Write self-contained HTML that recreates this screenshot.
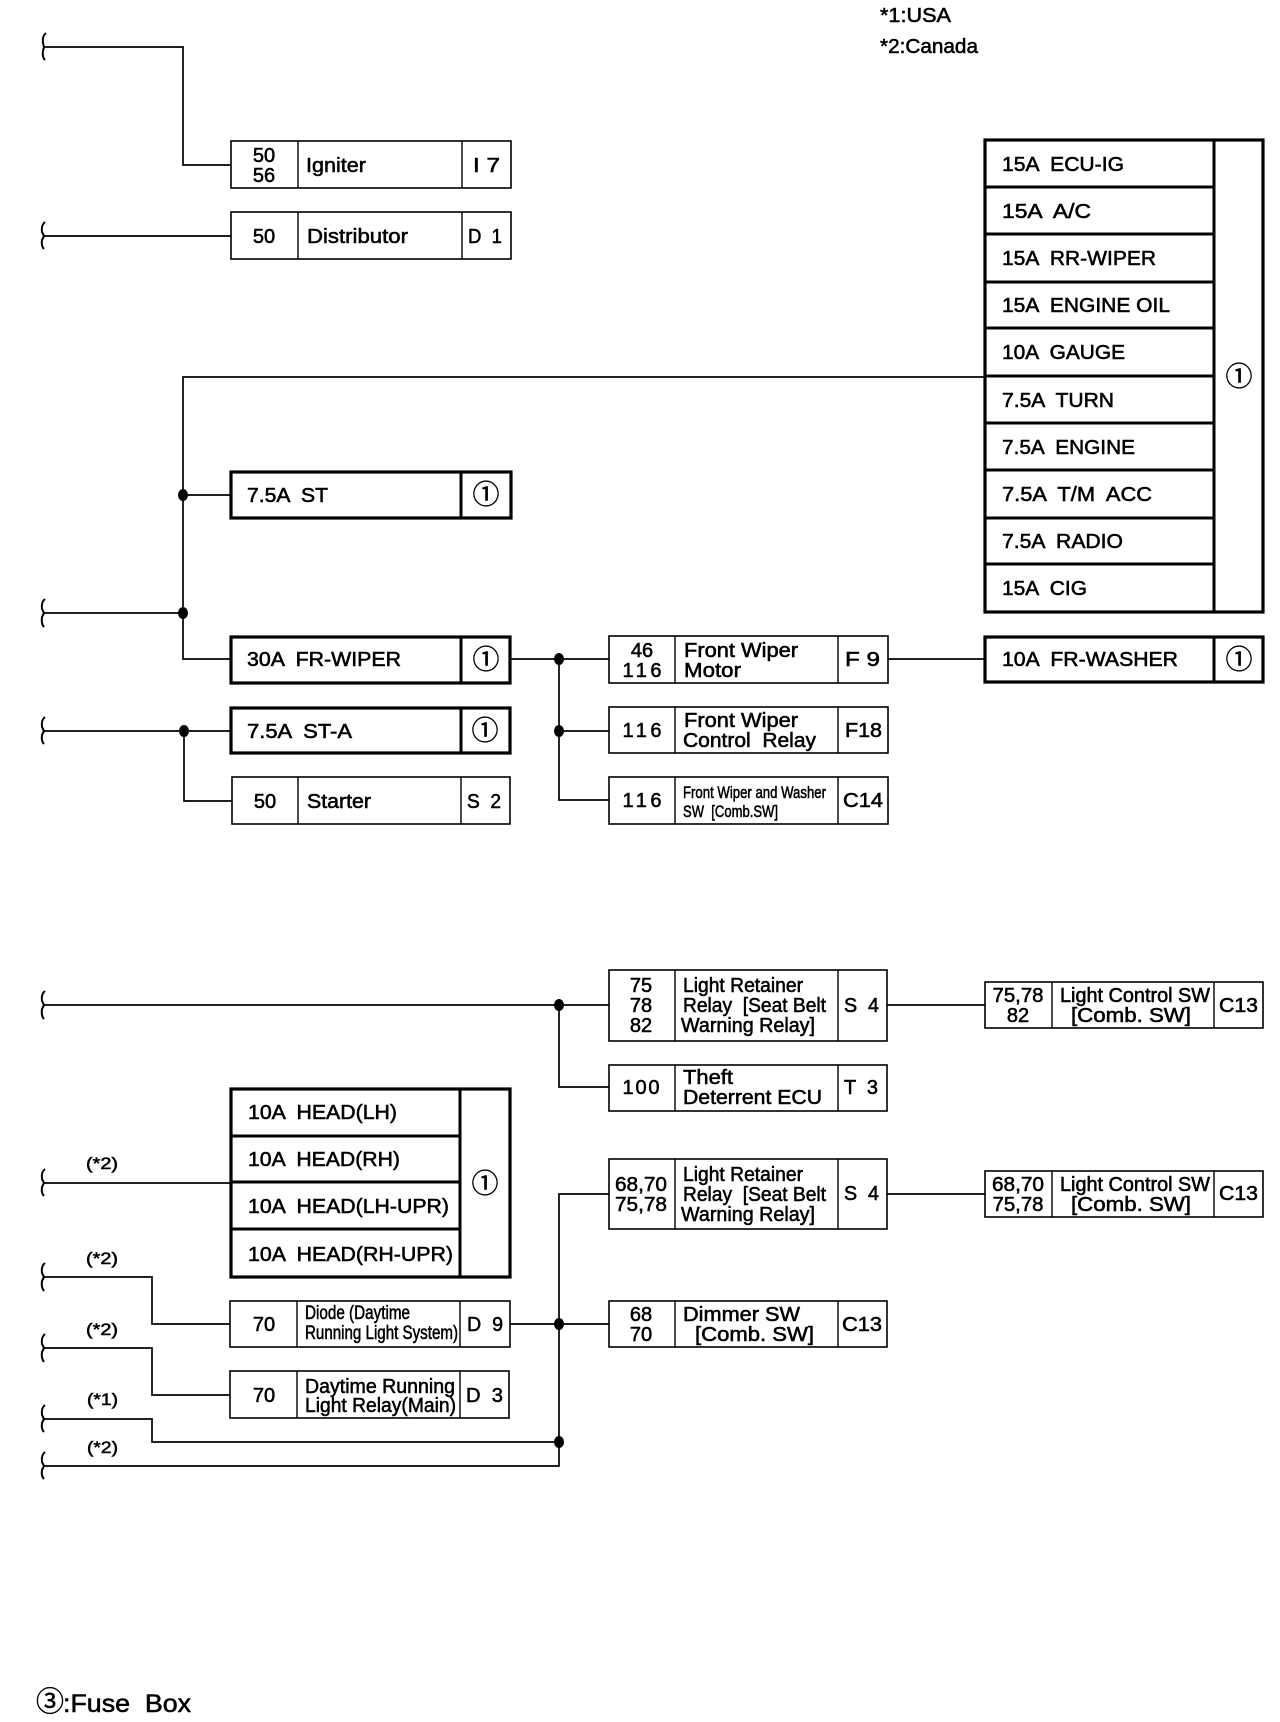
<!DOCTYPE html>
<html lang="en"><head><meta charset="utf-8"><title>Fuse Box Diagram</title>
<style>
html,body{margin:0;padding:0;background:#fff}
svg{display:block}
text{font-family:"Liberation Sans","Noto Sans CJK JP",sans-serif;font-size:20px;fill:#000;stroke:#000;stroke-width:.55px;white-space:pre}
.m{text-anchor:middle}
.c{font-family:"Noto Sans CJK JP","Liberation Sans",sans-serif;font-size:27px;text-anchor:middle;stroke:#000;stroke-width:.45px}
.s{font-size:17px}
.t{font-size:19px}
.w{fill:none;stroke:#000;stroke-width:1.7}
.b{fill:#fff;stroke:#000;stroke-width:1.6}
.B{fill:#fff;stroke:#000;stroke-width:3.2}
.d{stroke:#000;stroke-width:1.4;fill:none}
.D{stroke:#000;stroke-width:3;fill:none}
.k{fill:none;stroke:#000;stroke-width:2}
</style></head><body>
<svg xmlns="http://www.w3.org/2000/svg" width="1280" height="1722" viewBox="0 0 1280 1722">
<!-- braces -->
<path class="k" d="M46 33Q42 36 43 43L44 47L43 51Q42 57 45 60"/>
<path class="k" d="M45 222Q41 225 42 232L44 236L42 240Q41 246 44 249"/>
<path class="k" d="M45 599Q41 602 42 609L44 613L42 617Q41 624 44 627"/>
<path class="k" d="M45 717Q41 720 42 727L44 731L42 735Q41 741 44 744"/>
<path class="k" d="M45 991Q41 994 42 1001L44 1005L42 1009Q41 1016 44 1019"/>
<path class="k" d="M45 1169Q41 1172 42 1179L44 1183L42 1187Q41 1193 44 1196"/>
<path class="k" d="M45 1263Q41 1266 42 1273L44 1277L42 1281Q41 1287 44 1291"/>
<path class="k" d="M45 1334Q41 1337 42 1344L44 1348L42 1352Q41 1358 44 1362"/>
<path class="k" d="M45 1405Q41 1408 42 1415L44 1419L42 1423Q41 1429 44 1432"/>
<path class="k" d="M45 1452Q41 1455 42 1462L44 1466L42 1470Q41 1476 44 1479"/>
<!-- wires -->
<path class="w" d="M44 47H183V165H231"/>
<path class="w" d="M44 236H231"/>
<path class="w" d="M985 377H183V659H231"/>
<path class="w" d="M183 495H231"/>
<path class="w" d="M44 613H183"/>
<path class="w" d="M44 731H231"/>
<path class="w" d="M184 731V801H232"/>
<path class="w" d="M510 659H609"/>
<path class="w" d="M559 659V800H609"/>
<path class="w" d="M559 731H609"/>
<path class="w" d="M888 659H985"/>
<path class="w" d="M44 1005H609"/>
<path class="w" d="M559 1005V1087H609"/>
<path class="w" d="M887 1005H985"/>
<path class="w" d="M887 1194H985"/>
<path class="w" d="M609 1194H559V1466H44"/>
<path class="w" d="M510 1324H609"/>
<path class="w" d="M44 1183H231"/>
<path class="w" d="M44 1277H152V1324H230"/>
<path class="w" d="M44 1348H152V1395H230"/>
<path class="w" d="M44 1419H152V1442H559"/>
<!-- dots -->
<ellipse cx="183" cy="495" rx="5" ry="6"/>
<ellipse cx="183" cy="613" rx="5" ry="6"/>
<ellipse cx="184" cy="731" rx="5" ry="6"/>
<ellipse cx="559" cy="659" rx="5" ry="6"/>
<ellipse cx="559" cy="731" rx="5" ry="6"/>
<ellipse cx="559" cy="1005" rx="5" ry="6"/>
<ellipse cx="559" cy="1324" rx="5" ry="6"/>
<ellipse cx="559" cy="1442" rx="5" ry="6"/>

<!-- legend -->
<text x="880" y="22" textLength="71" lengthAdjust="spacingAndGlyphs">*1:USA</text>
<text x="880" y="53" textLength="98" lengthAdjust="spacingAndGlyphs">*2:Canada</text>

<!-- Igniter -->
<rect class="b" x="231" y="141" width="280" height="47"/><path class="d" d="M298 141V188M462 141V188"/>
<text class="m" x="264" y="162">50</text><text class="m" x="264" y="182">56</text>
<text x="306" y="172" textLength="60" lengthAdjust="spacingAndGlyphs">Igniter</text>
<text x="473" y="172" textLength="27" lengthAdjust="spacingAndGlyphs">I 7</text>
<!-- Distributor -->
<rect class="b" x="231" y="212" width="280" height="47"/><path class="d" d="M298 212V259M462 212V259"/>
<text class="m" x="264" y="243">50</text>
<text x="307" y="243" textLength="101" lengthAdjust="spacingAndGlyphs">Distributor</text>
<text x="468" y="243" textLength="34" lengthAdjust="spacingAndGlyphs">D  1</text>

<!-- big fuse box -->
<rect class="B" x="985" y="140" width="278" height="472"/>
<path class="D" d="M985 187H1214M985 234H1214M985 282H1214M985 328H1214M985 376H1214M985 423H1214M985 470H1214M985 518H1214M985 564H1214"/>
<path class="D" d="M1214 140V612"/>
<text x="1002" y="171" textLength="122" lengthAdjust="spacingAndGlyphs">15A  ECU-IG</text>
<text x="1002" y="218" textLength="89" lengthAdjust="spacingAndGlyphs">15A  A/C</text>
<text x="1002" y="265" textLength="154" lengthAdjust="spacingAndGlyphs">15A  RR-WIPER</text>
<text x="1002" y="312" textLength="168" lengthAdjust="spacingAndGlyphs">15A  ENGINE OIL</text>
<text x="1002" y="359" textLength="123" lengthAdjust="spacingAndGlyphs">10A  GAUGE</text>
<text x="1002" y="407" textLength="112" lengthAdjust="spacingAndGlyphs">7.5A  TURN</text>
<text x="1002" y="454" textLength="133" lengthAdjust="spacingAndGlyphs">7.5A  ENGINE</text>
<text x="1002" y="501" textLength="150" lengthAdjust="spacingAndGlyphs">7.5A  T/M  ACC</text>
<text x="1002" y="548" textLength="121" lengthAdjust="spacingAndGlyphs">7.5A  RADIO</text>
<text x="1002" y="595" textLength="85" lengthAdjust="spacingAndGlyphs">15A  CIG</text>
<text class="c" x="1239" y="386">①</text>

<!-- 7.5A ST -->
<rect class="B" x="231" y="472" width="280" height="46"/><path class="D" d="M461 472V518"/>
<text x="247" y="502" textLength="81" lengthAdjust="spacingAndGlyphs">7.5A  ST</text>
<text class="c" x="486" y="504">①</text>
<!-- 30A FR-WIPER -->
<rect class="B" x="231" y="637" width="279" height="46"/><path class="D" d="M461 637V683"/>
<text x="247" y="666" textLength="154" lengthAdjust="spacingAndGlyphs">30A  FR-WIPER</text>
<text class="c" x="486" y="669">①</text>
<!-- 7.5A ST-A -->
<rect class="B" x="231" y="708" width="279" height="45"/><path class="D" d="M461 708V753"/>
<text x="247" y="738" textLength="105" lengthAdjust="spacingAndGlyphs">7.5A  ST-A</text>
<text class="c" x="485" y="740">①</text>
<!-- Starter -->
<rect class="b" x="232" y="777" width="278" height="47"/><path class="d" d="M298 777V824M461 777V824"/>
<text class="m" x="265" y="808">50</text>
<text x="307" y="808" textLength="64" lengthAdjust="spacingAndGlyphs">Starter</text>
<text x="467" y="808" textLength="34" lengthAdjust="spacingAndGlyphs">S  2</text>

<!-- Front Wiper Motor -->
<rect class="b" x="609" y="636" width="279" height="47"/><path class="d" d="M675 636V683M838 636V683"/>
<text class="m" x="642" y="657">46</text><text class="m" x="642" y="677" textLength="39" lengthAdjust="spacing">116</text>
<text x="684" y="657" textLength="114" lengthAdjust="spacingAndGlyphs">Front Wiper</text>
<text x="684" y="677" textLength="57" lengthAdjust="spacingAndGlyphs">Motor</text>
<text x="845" y="666" textLength="35" lengthAdjust="spacingAndGlyphs">F 9</text>
<!-- Front Wiper Control Relay -->
<rect class="b" x="609" y="707" width="279" height="46"/><path class="d" d="M675 707V753M838 707V753"/>
<text class="m" x="642" y="737" textLength="39" lengthAdjust="spacing">116</text>
<text x="684" y="727" textLength="114" lengthAdjust="spacingAndGlyphs">Front Wiper</text>
<text x="683" y="747" textLength="133" lengthAdjust="spacingAndGlyphs">Control  Relay</text>
<text x="845" y="737" textLength="37" lengthAdjust="spacingAndGlyphs">F18</text>
<!-- Front Wiper and Washer -->
<rect class="b" x="609" y="777" width="279" height="47"/><path class="d" d="M675 777V824M838 777V824"/>
<text class="m" x="642" y="807" textLength="39" lengthAdjust="spacing">116</text>
<text class="s" x="683" y="798" textLength="143" lengthAdjust="spacingAndGlyphs">Front Wiper and Washer</text>
<text class="s" x="683" y="817" textLength="95" lengthAdjust="spacingAndGlyphs">SW  [Comb.SW]</text>
<text x="843" y="807" textLength="40" lengthAdjust="spacingAndGlyphs">C14</text>
<!-- FR-WASHER -->
<rect class="B" x="985" y="637" width="278" height="45"/><path class="D" d="M1214 637V682"/>
<text x="1002" y="666" textLength="176" lengthAdjust="spacingAndGlyphs">10A  FR-WASHER</text>
<text class="c" x="1239" y="669">①</text>

<!-- Light Retainer 1 -->
<rect class="b" x="609" y="970" width="278" height="71"/><path class="d" d="M675 970V1041M838 970V1041"/>
<text class="m" x="641" y="992">75</text><text class="m" x="641" y="1012">78</text><text class="m" x="641" y="1032">82</text>
<text x="683" y="992" textLength="120" lengthAdjust="spacingAndGlyphs">Light Retainer</text>
<text x="683" y="1012" textLength="143" lengthAdjust="spacingAndGlyphs">Relay  [Seat Belt</text>
<text x="681" y="1032" textLength="134" lengthAdjust="spacingAndGlyphs">Warning Relay]</text>
<text x="844" y="1012" textLength="35" lengthAdjust="spacingAndGlyphs">S  4</text>
<!-- Light Control 1 -->
<rect class="b" x="985" y="982" width="278" height="46"/><path class="d" d="M1052 982V1028M1214 982V1028"/>
<text class="m" x="1018" y="1002" textLength="51" lengthAdjust="spacingAndGlyphs">75,78</text><text class="m" x="1018" y="1022">82</text>
<text x="1060" y="1002" textLength="150" lengthAdjust="spacingAndGlyphs">Light Control SW</text>
<text x="1071" y="1022" textLength="120" lengthAdjust="spacingAndGlyphs">[Comb. SW]</text>
<text x="1219" y="1012" textLength="39" lengthAdjust="spacingAndGlyphs">C13</text>
<!-- Theft -->
<rect class="b" x="609" y="1065" width="278" height="46"/><path class="d" d="M675 1065V1111M838 1065V1111"/>
<text class="m" x="641" y="1094" textLength="37" lengthAdjust="spacing">100</text>
<text x="683" y="1084" textLength="50" lengthAdjust="spacingAndGlyphs">Theft</text>
<text x="683" y="1104" textLength="139" lengthAdjust="spacingAndGlyphs">Deterrent ECU</text>
<text x="844" y="1094" textLength="34" lengthAdjust="spacingAndGlyphs">T  3</text>
<!-- Light Retainer 2 -->
<rect class="b" x="609" y="1159" width="278" height="70"/><path class="d" d="M675 1159V1229M838 1159V1229"/>
<text class="m" x="641" y="1191" textLength="52" lengthAdjust="spacingAndGlyphs">68,70</text><text class="m" x="641" y="1211" textLength="52" lengthAdjust="spacingAndGlyphs">75,78</text>
<text x="683" y="1181" textLength="120" lengthAdjust="spacingAndGlyphs">Light Retainer</text>
<text x="683" y="1201" textLength="143" lengthAdjust="spacingAndGlyphs">Relay  [Seat Belt</text>
<text x="681" y="1221" textLength="134" lengthAdjust="spacingAndGlyphs">Warning Relay]</text>
<text x="844" y="1200" textLength="35" lengthAdjust="spacingAndGlyphs">S  4</text>
<!-- Light Control 2 -->
<rect class="b" x="985" y="1171" width="278" height="46"/><path class="d" d="M1052 1171V1217M1214 1171V1217"/>
<text class="m" x="1018" y="1191" textLength="52" lengthAdjust="spacingAndGlyphs">68,70</text><text class="m" x="1018" y="1211" textLength="51" lengthAdjust="spacingAndGlyphs">75,78</text>
<text x="1060" y="1191" textLength="150" lengthAdjust="spacingAndGlyphs">Light Control SW</text>
<text x="1071" y="1211" textLength="120" lengthAdjust="spacingAndGlyphs">[Comb. SW]</text>
<text x="1219" y="1200" textLength="39" lengthAdjust="spacingAndGlyphs">C13</text>
<!-- Dimmer -->
<rect class="b" x="609" y="1301" width="278" height="46"/><path class="d" d="M675 1301V1347M838 1301V1347"/>
<text class="m" x="641" y="1321">68</text><text class="m" x="641" y="1341">70</text>
<text x="683" y="1321" textLength="117" lengthAdjust="spacingAndGlyphs">Dimmer SW</text>
<text x="695" y="1341" textLength="119" lengthAdjust="spacingAndGlyphs">[Comb. SW]</text>
<text x="842" y="1331" textLength="40" lengthAdjust="spacingAndGlyphs">C13</text>

<!-- HEAD box -->
<rect class="B" x="231" y="1089" width="279" height="188"/>
<path class="D" d="M231 1136H460M231 1182H460M231 1229H460M460 1089V1277"/>
<text x="248" y="1119" textLength="149" lengthAdjust="spacingAndGlyphs">10A  HEAD(LH)</text>
<text x="248" y="1166" textLength="152" lengthAdjust="spacingAndGlyphs">10A  HEAD(RH)</text>
<text x="248" y="1213" textLength="201" lengthAdjust="spacingAndGlyphs">10A  HEAD(LH-UPR)</text>
<text x="248" y="1261" textLength="205" lengthAdjust="spacingAndGlyphs">10A  HEAD(RH-UPR)</text>
<text class="c" x="485" y="1193">①</text>
<!-- Diode -->
<rect class="b" x="230" y="1301" width="280" height="46"/><path class="d" d="M297 1301V1347M460 1301V1347"/>
<text class="m" x="264" y="1331">70</text>
<text class="t" x="305" y="1319" textLength="105" lengthAdjust="spacingAndGlyphs">Diode (Daytime</text>
<text class="t" x="305" y="1339" textLength="153" lengthAdjust="spacingAndGlyphs">Running Light System)</text>
<text x="467" y="1331" textLength="36" lengthAdjust="spacingAndGlyphs">D  9</text>
<!-- Daytime -->
<rect class="b" x="230" y="1371" width="279" height="47"/><path class="d" d="M297 1371V1418M460 1371V1418"/>
<text class="m" x="264" y="1402">70</text>
<text x="305" y="1393" textLength="150" lengthAdjust="spacingAndGlyphs">Daytime Running</text>
<text x="305" y="1412" textLength="151" lengthAdjust="spacingAndGlyphs">Light Relay(Main)</text>
<text x="466" y="1402" textLength="37" lengthAdjust="spacingAndGlyphs">D  3</text>

<!-- variant labels -->
<text class="s" x="86" y="1169" textLength="32" lengthAdjust="spacingAndGlyphs">(*2)</text>
<text class="s" x="86" y="1264" textLength="32" lengthAdjust="spacingAndGlyphs">(*2)</text>
<text class="s" x="86" y="1335" textLength="32" lengthAdjust="spacingAndGlyphs">(*2)</text>
<text class="s" x="87" y="1405" textLength="31" lengthAdjust="spacingAndGlyphs">(*1)</text>
<text class="s" x="87" y="1453" textLength="31" lengthAdjust="spacingAndGlyphs">(*2)</text>

<!-- footer -->
<text class="c" x="50" y="1711" style="font-size:28px">③</text>
<text x="63" y="1712" style="font-size:25px" textLength="128" lengthAdjust="spacingAndGlyphs">:Fuse  Box</text>
</svg>
</body></html>
